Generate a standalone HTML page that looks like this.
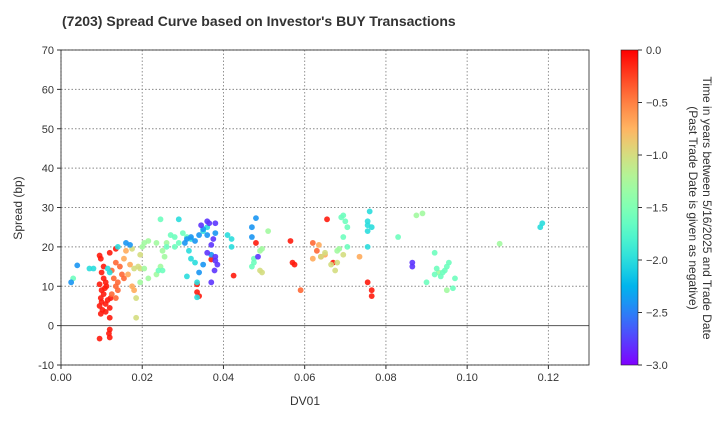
<!DOCTYPE html>
<html><head><meta charset="utf-8"><style>
body{margin:0;background:#fff;}
svg text{font-family:"Liberation Sans",sans-serif;}
</style></head><body>
<svg id="chart" width="720" height="420" xmlns="http://www.w3.org/2000/svg">
<defs>
<linearGradient id="cb" x1="0" y1="1" x2="0" y2="0"></linearGradient>
</defs>
<text x="62" y="26" font-size="14" font-weight="bold" fill="#333">(7203)   Spread Curve based on Investor's BUY Transactions</text>
<g id="grid"></g>
<g id="pts"></g>
<rect x="61" y="50" width="528" height="315" fill="none" stroke="#222" stroke-width="0.8"/>
<g id="axes"></g>
<text x="305" y="405" font-size="12" text-anchor="middle" fill="#333">DV01</text>
<text transform="translate(22,208) rotate(-90)" font-size="12" text-anchor="middle" fill="#333">Spread (bp)</text>
<rect x="621" y="50" width="17" height="315" fill="url(#cb)" stroke="#222" stroke-width="0.6"/>
<g id="cbaxis"></g>
<text transform="translate(700,208) rotate(90)" font-size="12" text-anchor="middle" fill="#333"><tspan x="0" dy="-3">Time in years between 5/16/2025 and Trade Date</tspan><tspan x="0" dy="14">(Past Trade Date is given as negative)</tspan></text>
</svg>
<script>
const xTicks=[0,0.02,0.04,0.06,0.08,0.10,0.12];
const xTickLabels=["0.00","0.02","0.04","0.06","0.08","0.10","0.12"];
const yTicks=[-10,0,10,20,30,40,50,60,70];
const cTicks=[0,-0.5,-1,-1.5,-2,-2.5,-3];
const cTickLabels=["0.0","−0.5","−1.0","−1.5","−2.0","−2.5","−3.0"];
const groupTimes=[-0.1,-0.4,-0.7,-1.0,-1.3,-1.6,-2.0,-2.4,-2.8];
const groupPoints=[
[[0.0095,17.8],[0.0098,17],[0.012,18.5],[0.0135,19.5],[0.010,13.5],[0.0105,12],[0.011,11],[0.0095,10.5],[0.010,9],[0.0105,8],[0.0098,7],[0.010,6],[0.011,5.5],[0.0095,5],[0.0102,4],[0.011,3.5],[0.012,4.5],[0.0115,6.5],[0.0108,9.5],[0.0098,3],[0.012,-1],[0.0118,-2],[0.012,-3],[0.0095,-3.3],[0.012,2],[0.0105,15],[0.0122,7],[0.0112,10],[0.0425,12.7],[0.0335,10.5],[0.0335,8.5],[0.034,7.5],[0.037,16.8],[0.048,21],[0.0565,21.5],[0.057,16],[0.0575,15.5],[0.0655,27],[0.0755,11],[0.0765,9],[0.0765,7.5],[0.067,16]],
[[0.0125,14],[0.013,12],[0.0135,10],[0.014,9],[0.0125,8],[0.0135,7],[0.014,11],[0.0145,15],[0.015,13],[0.0155,12],[0.0135,16],[0.059,9],[0.063,19],[0.062,21],[0.064,17.5]],
[[0.0165,13],[0.0155,17],[0.016,19],[0.017,15.5],[0.0175,10],[0.018,9],[0.065,18],[0.0635,20.5],[0.0735,17.5],[0.062,17]],
[[0.0175,19.5],[0.0195,18],[0.019,15],[0.0195,14.5],[0.0185,7],[0.0185,2],[0.018,14.5],[0.064,17.5],[0.065,18.5],[0.0665,15.5],[0.068,16],[0.0675,14],[0.0695,18],[0.0495,13.5],[0.049,14]],
[[0.020,20],[0.0205,21],[0.0215,21.5],[0.0205,14.5],[0.0215,12],[0.0195,11],[0.0235,21],[0.0245,15],[0.025,19],[0.0255,17.5],[0.026,21],[0.0235,13],[0.049,19],[0.0495,19.5],[0.051,24],[0.068,19],[0.0685,19.5],[0.089,28.5],[0.0875,28],[0.108,20.8],[0.095,9],[0.093,13.5]],
[[0.003,12],[0.0245,27],[0.027,23],[0.028,22.5],[0.029,21],[0.030,23.5],[0.031,22.5],[0.026,20],[0.028,20],[0.025,14],[0.024,14],[0.047,15],[0.0475,17],[0.0475,16],[0.069,27.5],[0.0695,28],[0.0705,25],[0.070,26.5],[0.0695,22.5],[0.0705,20],[0.083,22.5],[0.092,18.5],[0.094,13.5],[0.0945,14],[0.0955,16],[0.0935,12.5],[0.095,15],[0.097,12],[0.0965,9.5],[0.090,11],[0.092,13],[0.0925,14.5]],
[[0.007,14.5],[0.008,14.5],[0.0115,14.5],[0.012,13.5],[0.014,20],[0.029,27],[0.0315,19],[0.032,17],[0.033,16],[0.031,12.5],[0.032,22],[0.035,24],[0.036,25],[0.041,23],[0.042,22],[0.042,20],[0.0755,26.5],[0.0755,25.5],[0.0755,24],[0.076,29],[0.0755,20],[0.0765,25],[0.118,25],[0.1185,26],[0.0335,11],[0.0335,7.2]],
[[0.004,15.3],[0.0025,11],[0.016,21],[0.017,20.5],[0.0305,21],[0.031,22],[0.032,22.5],[0.033,21.5],[0.034,23],[0.035,24.5],[0.036,23],[0.038,23.5],[0.047,25],[0.048,27.3],[0.047,22.5],[0.037,18],[0.035,15.5],[0.034,13.5]],
[[0.0345,25.5],[0.036,26.5],[0.0365,26],[0.038,26],[0.0375,22],[0.037,20.5],[0.036,18.5],[0.038,17.5],[0.038,16.5],[0.0385,15.5],[0.0378,14],[0.037,11],[0.0485,17.5],[0.0865,16],[0.0865,15]]
];
const NS="http://www.w3.org/2000/svg";
const X0=61,X1=589,Y0=365,Y1=50;
const xs=v=>X0+(v-0)/(0.13)*(X1-X0);
const ys=v=>Y0-(v+10)/80*(Y0-Y1);
const cs=v=>Y0-(v+3)/3*(Y0-Y1);
function rainbow(t){const x=(t+3)/3;const r=Math.min(1,Math.abs(2*x-0.5)),g=Math.sin(Math.PI*x),b=Math.cos(Math.PI*x/2);return `rgb(${Math.round(r*255)},${Math.round(g*255)},${Math.round(Math.max(0,b)*255)})`;}
function mk(tag,attrs,parent){const e=document.createElementNS(NS,tag);for(const k in attrs)e.setAttribute(k,attrs[k]);parent.appendChild(e);return e;}
const grid=document.getElementById('grid'),axes=document.getElementById('axes');
xTicks.forEach((t,i)=>{
 const gl=mk('line',{x1:xs(t),x2:xs(t),y1:Y1,y2:Y0,stroke:'#888','stroke-dasharray':'1.5,2','stroke-width':0.9},grid);
 
 const tk=mk('line',{x1:xs(t),x2:xs(t),y1:Y0,y2:Y0+4,stroke:'#333'},axes);
 
 const tx=mk('text',{x:xs(t),y:Y0+16,'font-size':11,'text-anchor':'middle',fill:'#333'},axes);
 tx.textContent=xTickLabels[i];
 
});
yTicks.forEach(t=>{
 const gl=mk('line',{x1:X0,x2:X1,y1:ys(t),y2:ys(t),stroke:t===0?'#555':'#888','stroke-dasharray':t===0?'':'1.5,2','stroke-width':t===0?1:0.9},grid);
 
 const tk=mk('line',{x1:X0-4,x2:X0,y1:ys(t),y2:ys(t),stroke:'#333'},axes);
 
 const tx=mk('text',{x:X0-7,y:ys(t)+4,'font-size':11,'text-anchor':'end',fill:'#333'},axes);
 tx.textContent=String(t);
 
});
const pts=document.getElementById('pts');
groupPoints.forEach((arr,gi)=>{arr.forEach(p=>{
 const c=mk('circle',{cx:xs(p[0]),cy:ys(p[1]),r:2.9,fill:rainbow(groupTimes[gi]),'fill-opacity':0.9},pts);
 
});});
const grad=document.getElementById('cb');
for(let i=0;i<=20;i++){const t=-3+3*i/20;mk('stop',{offset:(i/20*100)+'%','stop-color':rainbow(t)},grad);}
const cba=document.getElementById('cbaxis');
cTicks.forEach((t,i)=>{
 const tk=mk('line',{x1:638,x2:642,y1:cs(t),y2:cs(t),stroke:'#333'},cba);
 
 const tx=mk('text',{x:646,y:cs(t)+4,'font-size':11,fill:'#333'},cba);
 tx.textContent=cTickLabels[i];
 
});
</script>
</body></html>
